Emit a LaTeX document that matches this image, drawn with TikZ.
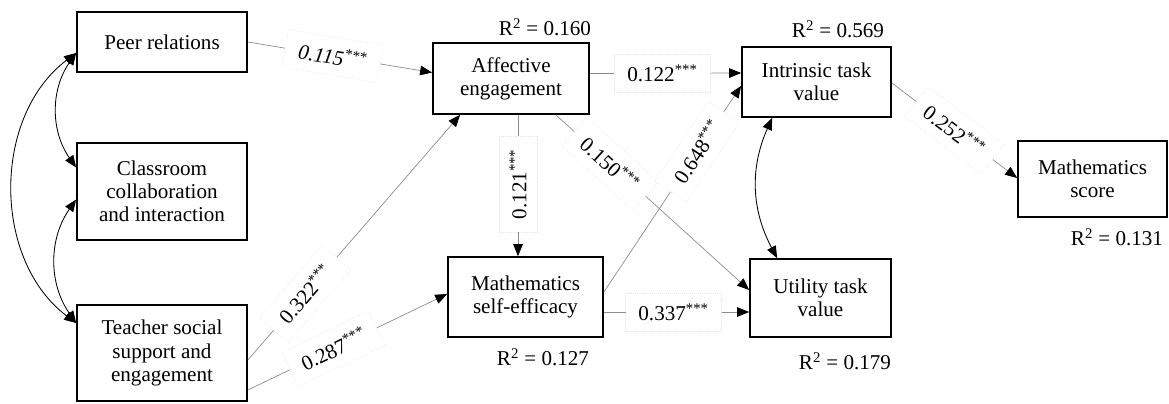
\documentclass[tikz,border=0pt]{standalone}
\usepackage{fontspec}
\setmainfont{Liberation Serif}
\usetikzlibrary{arrows.meta,calc}

\begin{document}
\begin{tikzpicture}[
  x=0.025cm,y=-0.025cm,
  font=\fontsize{15}{16.5}\selectfont,
  var/.style={rectangle,draw,line width=1.2pt,align=center,inner sep=0pt},
  eff/.style={draw=black!45,line width=0.5pt,-{Triangle[color=black,length=3mm,width=2.4mm]}},
  cov/.style={draw=black,line width=0.6pt,{Triangle[length=3mm,width=2.4mm]}-{Triangle[length=3mm,width=2.4mm]}},
  coef/.style={fill=white,draw=black!10,densely dotted,line width=0.4pt,minimum width=2.4cm,minimum height=0.95cm,inner sep=1pt},
  rsq/.style={inner sep=0pt}
]
\useasboundingbox (0,0) rectangle (1169,403);
\node[var,minimum width=4.25cm,minimum height=1.5cm] (peer) at (162,42) {Peer relations};
\node[var,minimum width=4.25cm,minimum height=2.425cm] (class) at (162,191.5) {Classroom\\collaboration\\and interaction};
\node[var,minimum width=4.25cm,minimum height=2.4cm] (teach) at (162,353) {Teacher social\\support and\\engagement};
\node[var,minimum width=3.9cm,minimum height=1.775cm] (aff) at (511,78.5) {Affective\\engagement};
\node[var,minimum width=3.875cm,minimum height=2cm] (self) at (525.5,297) {Mathematics\\self-efficacy};
\node[var,minimum width=3.725cm,minimum height=1.75cm] (intr) at (816.5,82) {Intrinsic task\\value};
\node[var,minimum width=3.525cm,minimum height=1.95cm] (util) at (820.5,298) {Utility task\\value};
\node[var,minimum width=3.725cm,minimum height=1.9cm] (score) at (1092.5,179) {Mathematics\\score};
\node[rsq] (raff) at (545,27) {R\textsuperscript{2} = 0.160};
\node[rsq] (rintr) at (838,29) {R\textsuperscript{2} = 0.569};
\node[rsq] (rself) at (543,357) {R\textsuperscript{2} = 0.127};
\node[rsq] (rutil) at (845,361) {R\textsuperscript{2} = 0.179};
\node[rsq] (rscore) at (1117,237) {R\textsuperscript{2} = 0.131};
\draw[eff] (peer.east) -- node[coef,sloped,pos=0.46] {\textit{0.115\textsuperscript{***}}} ($(aff.west)+(0,-6)$);
\draw[eff] ($(teach.east)+(0,7)$) -- node[coef,sloped,pos=0.27] {0.322\textsuperscript{***}} ($(aff.south west)+(28,0)$);
\draw[eff] ($(teach.east)+(0,37)$) -- node[coef,sloped,pos=0.43] {0.287\textsuperscript{***}} ($(self.west)+(0,-3)$);
\draw[eff] ($(aff.east)+(0,-5)$) -- node[coef,pos=0.48] {0.122\textsuperscript{***}} ($(intr.west)+(0,-9)$);
\draw[eff] ($(aff.south)+(7,0)$) -- node[coef,rotate=90,pos=0.49] {0.121\textsuperscript{***}} ($(self.north)+(-7.5,0)$);
\draw[eff] ($(aff.south east)+(-34,0)$) -- node[coef,sloped,pos=0.28] {0.150\textsuperscript{***}} ($(util.west)+(0,-8)$);
\draw[eff] ($(self.east)+(0,-5)$) -- node[coef,sloped,pos=0.68] {0.648\textsuperscript{***}} ($(intr.south west)+(0,-32)$);
\draw[eff] ($(self.east)+(0,15)$) -- node[coef,pos=0.48] {0.337\textsuperscript{***}} ($(util.west)+(0,14)$);
\draw[eff] ($(intr.east)+(0,1)$) -- node[coef,sloped,pos=0.5] {0.252\textsuperscript{***}} ($(score.west)+(0,-1)$);
\draw[cov] ($(intr.south west)+(31,0)$) to[bend right=26] ($(util.north west)+(28,0)$);
\draw[cov] ($(peer.west)+(0,11)$) to[bend right=35] ($(class.west)+(0,-24)$);
\draw[cov] ($(class.west)+(0,8)$) to[bend right=35] ($(teach.west)+(0,-30)$);
\draw[cov] ($(peer.west)+(0,11)$) to[bend right=53] ($(teach.west)+(0,-30)$);
\end{tikzpicture}
\end{document}
